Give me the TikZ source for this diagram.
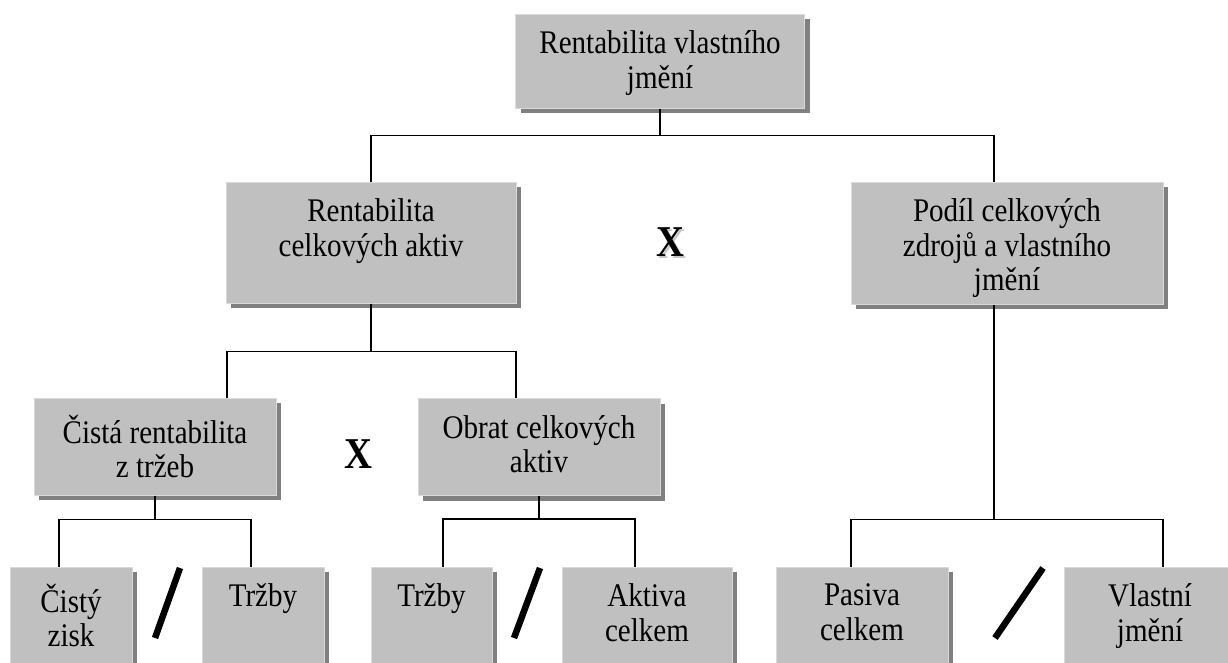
\documentclass[tikz,border=0pt]{standalone}
\usepackage{fontspec}
\setmainfont[FakeStretch=0.88]{Liberation Serif}
\usetikzlibrary{shadows}
\definecolor{boxgray}{HTML}{C0C0C0}
\definecolor{shadegray}{HTML}{808080}
\definecolor{edgegray}{HTML}{DADADA}

\begin{document}
\begin{tikzpicture}[
  x=1pt, y=-1pt,
  cell/.style={rectangle, draw=edgegray, line width=1pt, fill=boxgray,
               drop shadow={shadow xshift=5pt, shadow yshift=-5pt,
                            fill=shadegray, opacity=1}},
  txt/.style={anchor=north, inner sep=0pt, align=center, yshift=-17pt,
              font=\fontsize{33}{34.5}\selectfont},
  link/.style={draw=black, line width=1.6pt},
  slash/.style={draw=black, line width=6.5pt},
  times/.style={inner sep=0pt, font=\fontsize{44}{44}\selectfont\bfseries}
]
\useasboundingbox (0,0) rectangle (1228,662);
\clip (0,0) rectangle (1228,662);

% level 1
\node[cell, minimum width=289pt, minimum height=94pt,
      label={[txt]north:{Rentabilita vlastního\\jmění}}] (roe) at (660,61) {};

% level 2
\node[cell, minimum width=290pt, minimum height=121pt,
      label={[txt]north:{Rentabilita\\celkových aktiv}}] (roa) at (371,242.5) {};
\node[cell, minimum width=312pt, minimum height=122pt,
      label={[txt]north:{Podíl celkových\\zdrojů a vlastního\\jmění}}] (share) at (1007,243) {};

% level 3
\node[cell, minimum width=242pt, minimum height=97pt,
      label={[txt]north:{Čistá rentabilita\\z tržeb}}] (ros) at (155,446.5) {};
\node[cell, minimum width=242pt, minimum height=97pt,
      label={[txt]north:{Obrat celkových\\aktiv}}] (turn) at (539,447) {};

% level 4
\node[cell, minimum width=122pt, minimum height=108pt,
      label={[txt]north:{Čistý\\zisk}}] (np) at (71,621) {};
\node[cell, minimum width=122pt, minimum height=108pt,
      label={[txt]north:{Tržby}}] (s1) at (263,621) {};
\node[cell, minimum width=121pt, minimum height=108pt,
      label={[txt]north:{Tržby}}] (s2) at (431.5,621) {};
\node[cell, minimum width=170pt, minimum height=108pt,
      label={[txt]north:{Aktiva\\celkem}}] (ta) at (647,621) {};
\node[cell, minimum width=172pt, minimum height=108pt,
      label={[txt]north:{Pasiva\\celkem}}] (tl) at (862,621) {};
\node[cell, minimum width=172pt, minimum height=108pt,
      label={[txt]north:{Vlastní\\jmění}}] (eq) at (1150,621) {};

% operators
\node[times] (mul1) at (358,454) {X};
\node[times] (mul2) at (670,243)
  {\makebox[0pt][l]{\hspace{2.5pt}\raisebox{-2.5pt}{\textcolor{gray!45}{X}}}X};
\draw[slash] (180,568) -- (155,638);
\draw[slash] (540,568) -- (514,638);
\draw[slash] (1043,568) -- (995,638);

% connectors
\draw[link] (roe.south) -- ++(0,27) -| (roa.north);
\draw[link] (roe.south) -- ++(0,27) -| ([xshift=-13pt]share.north);
\draw[link] (roa.south) -- ++(0,48) -| ([xshift=72pt]ros.north);
\draw[link] (roa.south) -- ++(0,48) -| ([xshift=-23pt]turn.north);
\draw[link] (ros.south) -- ++(0,24) -| ([xshift=-12pt]np.north);
\draw[link] (ros.south) -- ++(0,24) -| ([xshift=-12pt]s1.north);
\draw[link] (turn.south) -- ++(0,23) -| ([xshift=11.5pt]s2.north);
\draw[link] (turn.south) -- ++(0,23) -| ([xshift=-12pt]ta.north);
\draw[link] ([xshift=-13pt]share.south) -- ++(0,215) -| ([xshift=-11pt]tl.north);
\draw[link] ([xshift=-13pt]share.south) -- ++(0,215) -| ([xshift=13pt]eq.north);
\end{tikzpicture}
\end{document}
